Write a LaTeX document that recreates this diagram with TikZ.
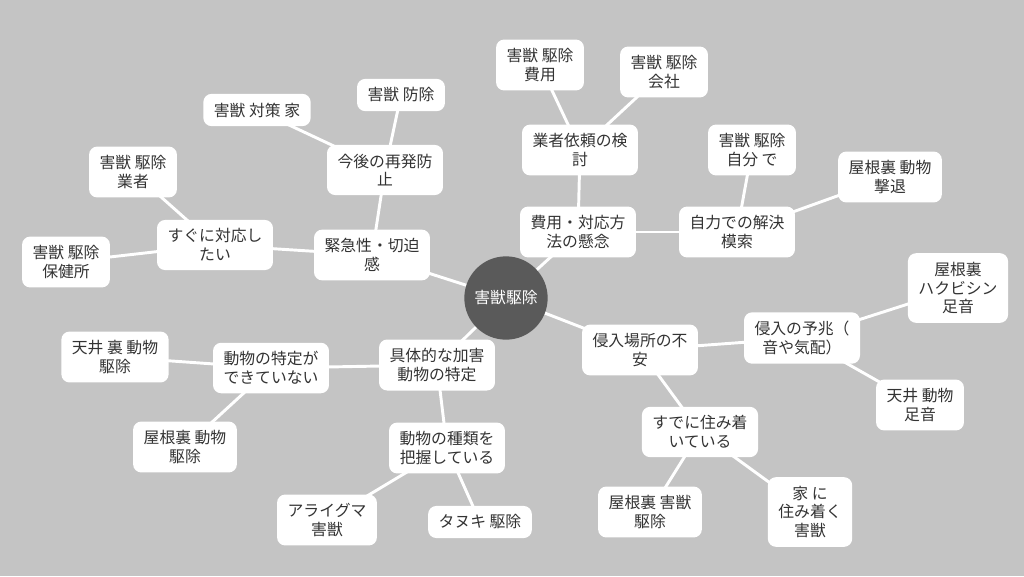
\documentclass[tikz,border=0pt]{standalone}
\usepackage{fontspec}
\setmainfont{Noto Sans CJK JP}
\definecolor{bg}{HTML}{C4C4C4}
\definecolor{hub}{HTML}{5A5A5A}
\definecolor{txt}{HTML}{333333}
\pgfdeclarelayer{bglayer}
\pgfdeclarelayer{edgelayer}
\pgfsetlayers{bglayer,edgelayer,main}
\begin{document}
\begin{tikzpicture}[x=0.03cm,y=-0.03cm,
  box/.style={draw=none,fill=white,rounded corners=7pt,align=center,text=txt,font=\fontsize{13.5}{16}\selectfont,inner xsep=9pt,inner ysep=7.5pt},
  link/.style={white,line width=2.5pt}]
\begin{pgfonlayer}{bglayer}
\fill[bg] (0,0) rectangle (1024,576);
\end{pgfonlayer}
\node[circle,fill=hub,minimum size=2.5cm,text=white,font=\fontsize{13.5}{16}\selectfont] (c) at (506,298) {害獣駆除};
\node[box] (a) at (372,255) {緊急性・切迫\\感};
\node[box] (a1) at (385,170) {今後の再発防\\止};
\node[box] (a11) at (401,95) {害獣 防除};
\node[box] (a12) at (257,110) {害獣 対策 家};
\node[box] (a2) at (215,245) {すぐに対応し\\たい};
\node[box] (a21) at (133,172) {害獣 駆除\\業者};
\node[box] (a22) at (66,262) {害獣 駆除\\保健所};
\node[box] (b) at (578,232) {費用・対応方\\法の懸念};
\node[box] (b1) at (580,150) {業者依頼の検\\討};
\node[box] (b11) at (540,65) {害獣 駆除\\費用};
\node[box] (b12) at (664,72) {害獣 駆除\\会社};
\node[box] (b2) at (737,232) {自力での解決\\模索};
\node[box] (b21) at (752,150) {害獣 駆除\\自分 で};
\node[box] (b22) at (890,177) {屋根裏 動物\\撃退};
\node[box] (d) at (640,350) {侵入場所の不\\安};
\node[box] (d1) at (802,338) {侵入の予兆（\\音や気配）};
\node[box] (d11) at (958,288) {屋根裏\\ハクビシン\\足音};
\node[box] (d12) at (920,405) {天井 動物\\足音};
\node[box] (d2) at (700,432) {すでに住み着\\いている};
\node[box] (d21) at (650,512) {屋根裏 害獣\\駆除};
\node[box] (d22) at (810,512) {家 に\\住み着く\\害獣};
\node[box] (e) at (437,365) {具体的な加害\\動物の特定};
\node[box] (e1) at (271,368) {動物の特定が\\できていない};
\node[box] (e11) at (115,357) {天井 裏 動物\\駆除};
\node[box] (e12) at (185,447) {屋根裏 動物\\駆除};
\node[box] (e2) at (447,448) {動物の種類を\\把握している};
\node[box] (e21) at (327,520) {アライグマ\\害獣};
\node[box] (e22) at (480,522) {タヌキ 駆除};
\begin{pgfonlayer}{edgelayer}
\foreach \p/\q in {c/a,a/a1,a1/a11,a1/a12,a/a2,a2/a21,a2/a22,c/b,b/b1,b1/b11,b1/b12,b/b2,b2/b21,b2/b22,c/d,d/d1,d1/d11,d1/d12,d/d2,d2/d21,d2/d22,c/e,e/e1,e1/e11,e1/e12,e/e2,e2/e21,e2/e22}
  \draw[link] (\p.center) -- (\q.center);
\end{pgfonlayer}
\end{tikzpicture}
\end{document}
